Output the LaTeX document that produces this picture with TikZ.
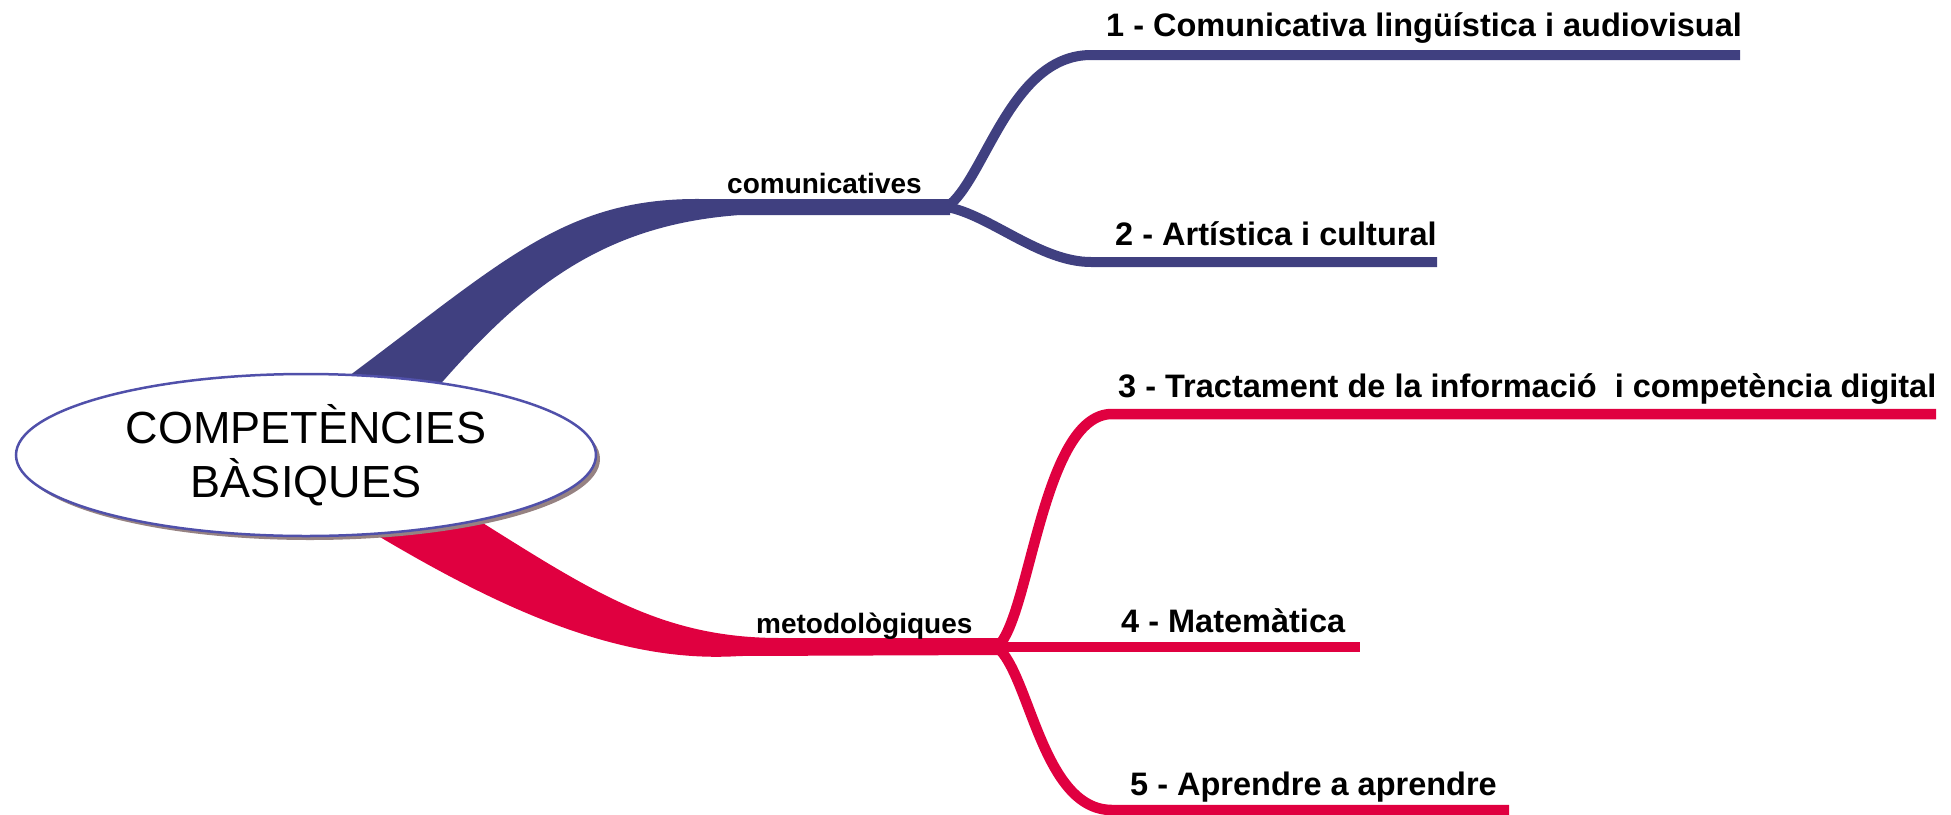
\documentclass[tikz,border=0pt]{standalone}
\usepackage{fontspec}
\setmainfont{Liberation Sans}
\usetikzlibrary{shapes.geometric}
\definecolor{cblue}{RGB}{64,64,128}
\definecolor{cred}{RGB}{224,0,64}
\definecolor{cedge}{RGB}{80,80,170}
\definecolor{cshadow}{RGB}{150,130,130}
\begin{document}
\begin{tikzpicture}[x=1pt,y=-1pt,
  leaf/.style={anchor=base west, inner sep=0pt, font=\fontsize{32.5}{39}\bfseries\selectfont},
  mid/.style={anchor=base west, inner sep=0pt, font=\fontsize{28}{34}\bfseries\selectfont},
  bluebr/.style={draw=cblue, line width=10pt},
  redbr/.style={draw=cred, line width=10.5pt},
  rootnode/.style={ellipse, draw=cedge, line width=2.5pt, fill=white,
    minimum width=580pt, minimum height=162pt, inner sep=0pt,
    align=center, font=\fontsize{45}{54}\selectfont}
  ]
\useasboundingbox (0,0) rectangle (1951,814);
% forks and ends
\coordinate (fA) at (947,207);
\coordinate (fB) at (997,647);
\coordinate (c1) at (1091,55);  \coordinate (e1) at (1740,55);
\coordinate (c2) at (1091,262); \coordinate (e2) at (1437,262);
\coordinate (c3) at (1112,414); \coordinate (e3) at (1936,414);
\coordinate (e4) at (1360,647);
\coordinate (c5) at (1112,810); \coordinate (e5) at (1509,810);
% main bands
\fill[cblue] (330,390) .. controls (500,265) and (560,198) .. (700,199) -- (950,199)
  -- (950,215) -- (740,215) .. controls (600,225) and (520,290) .. (425,402) -- cycle;
\fill[cred] (470,515) .. controls (590,590) and (660,638) .. (780,638) -- (1001,638)
  -- (1001,655) -- (740,656) .. controls (620,664) and (500,610) .. (360,525) -- cycle;
% branches
\draw[bluebr] (fA) .. controls (985,180) and (1010,55) .. (c1) -- (e1);
\draw[bluebr] (fA) .. controls (990,215) and (1040,262) .. (c2) -- (e2);
\draw[redbr] (fB) .. controls (1030,620) and (1042,414) .. (c3) -- (e3);
\draw[redbr] (fB) -- (e4);
\draw[redbr] (fB) .. controls (1030,674) and (1042,810) .. (c5) -- (e5);
% root
\fill[cshadow] (310,459) ellipse [x radius=290pt, y radius=81pt];
\node[rootnode] (root) at (306,455) {COMPETÈNCIES\\BÀSIQUES};
% labels
\node[mid] (m1) at (727,193) {comunicatives};
\node[mid] (m2) at (756,633) {metodològiques};
\node[leaf] (l1) at (1106,36) {1 - Comunicativa lingüística i audiovisual};
\node[leaf] (l2) at (1115,245) {2 - Artística i cultural};
\node[leaf] (l3) at (1118,397) {3 - Tractament de la informació\ \ i competència digital};
\node[leaf] (l4) at (1121,632) {4 - Matemàtica};
\node[leaf] (l5) at (1130,795) {5 - Aprendre a aprendre};
\end{tikzpicture}
\end{document}
